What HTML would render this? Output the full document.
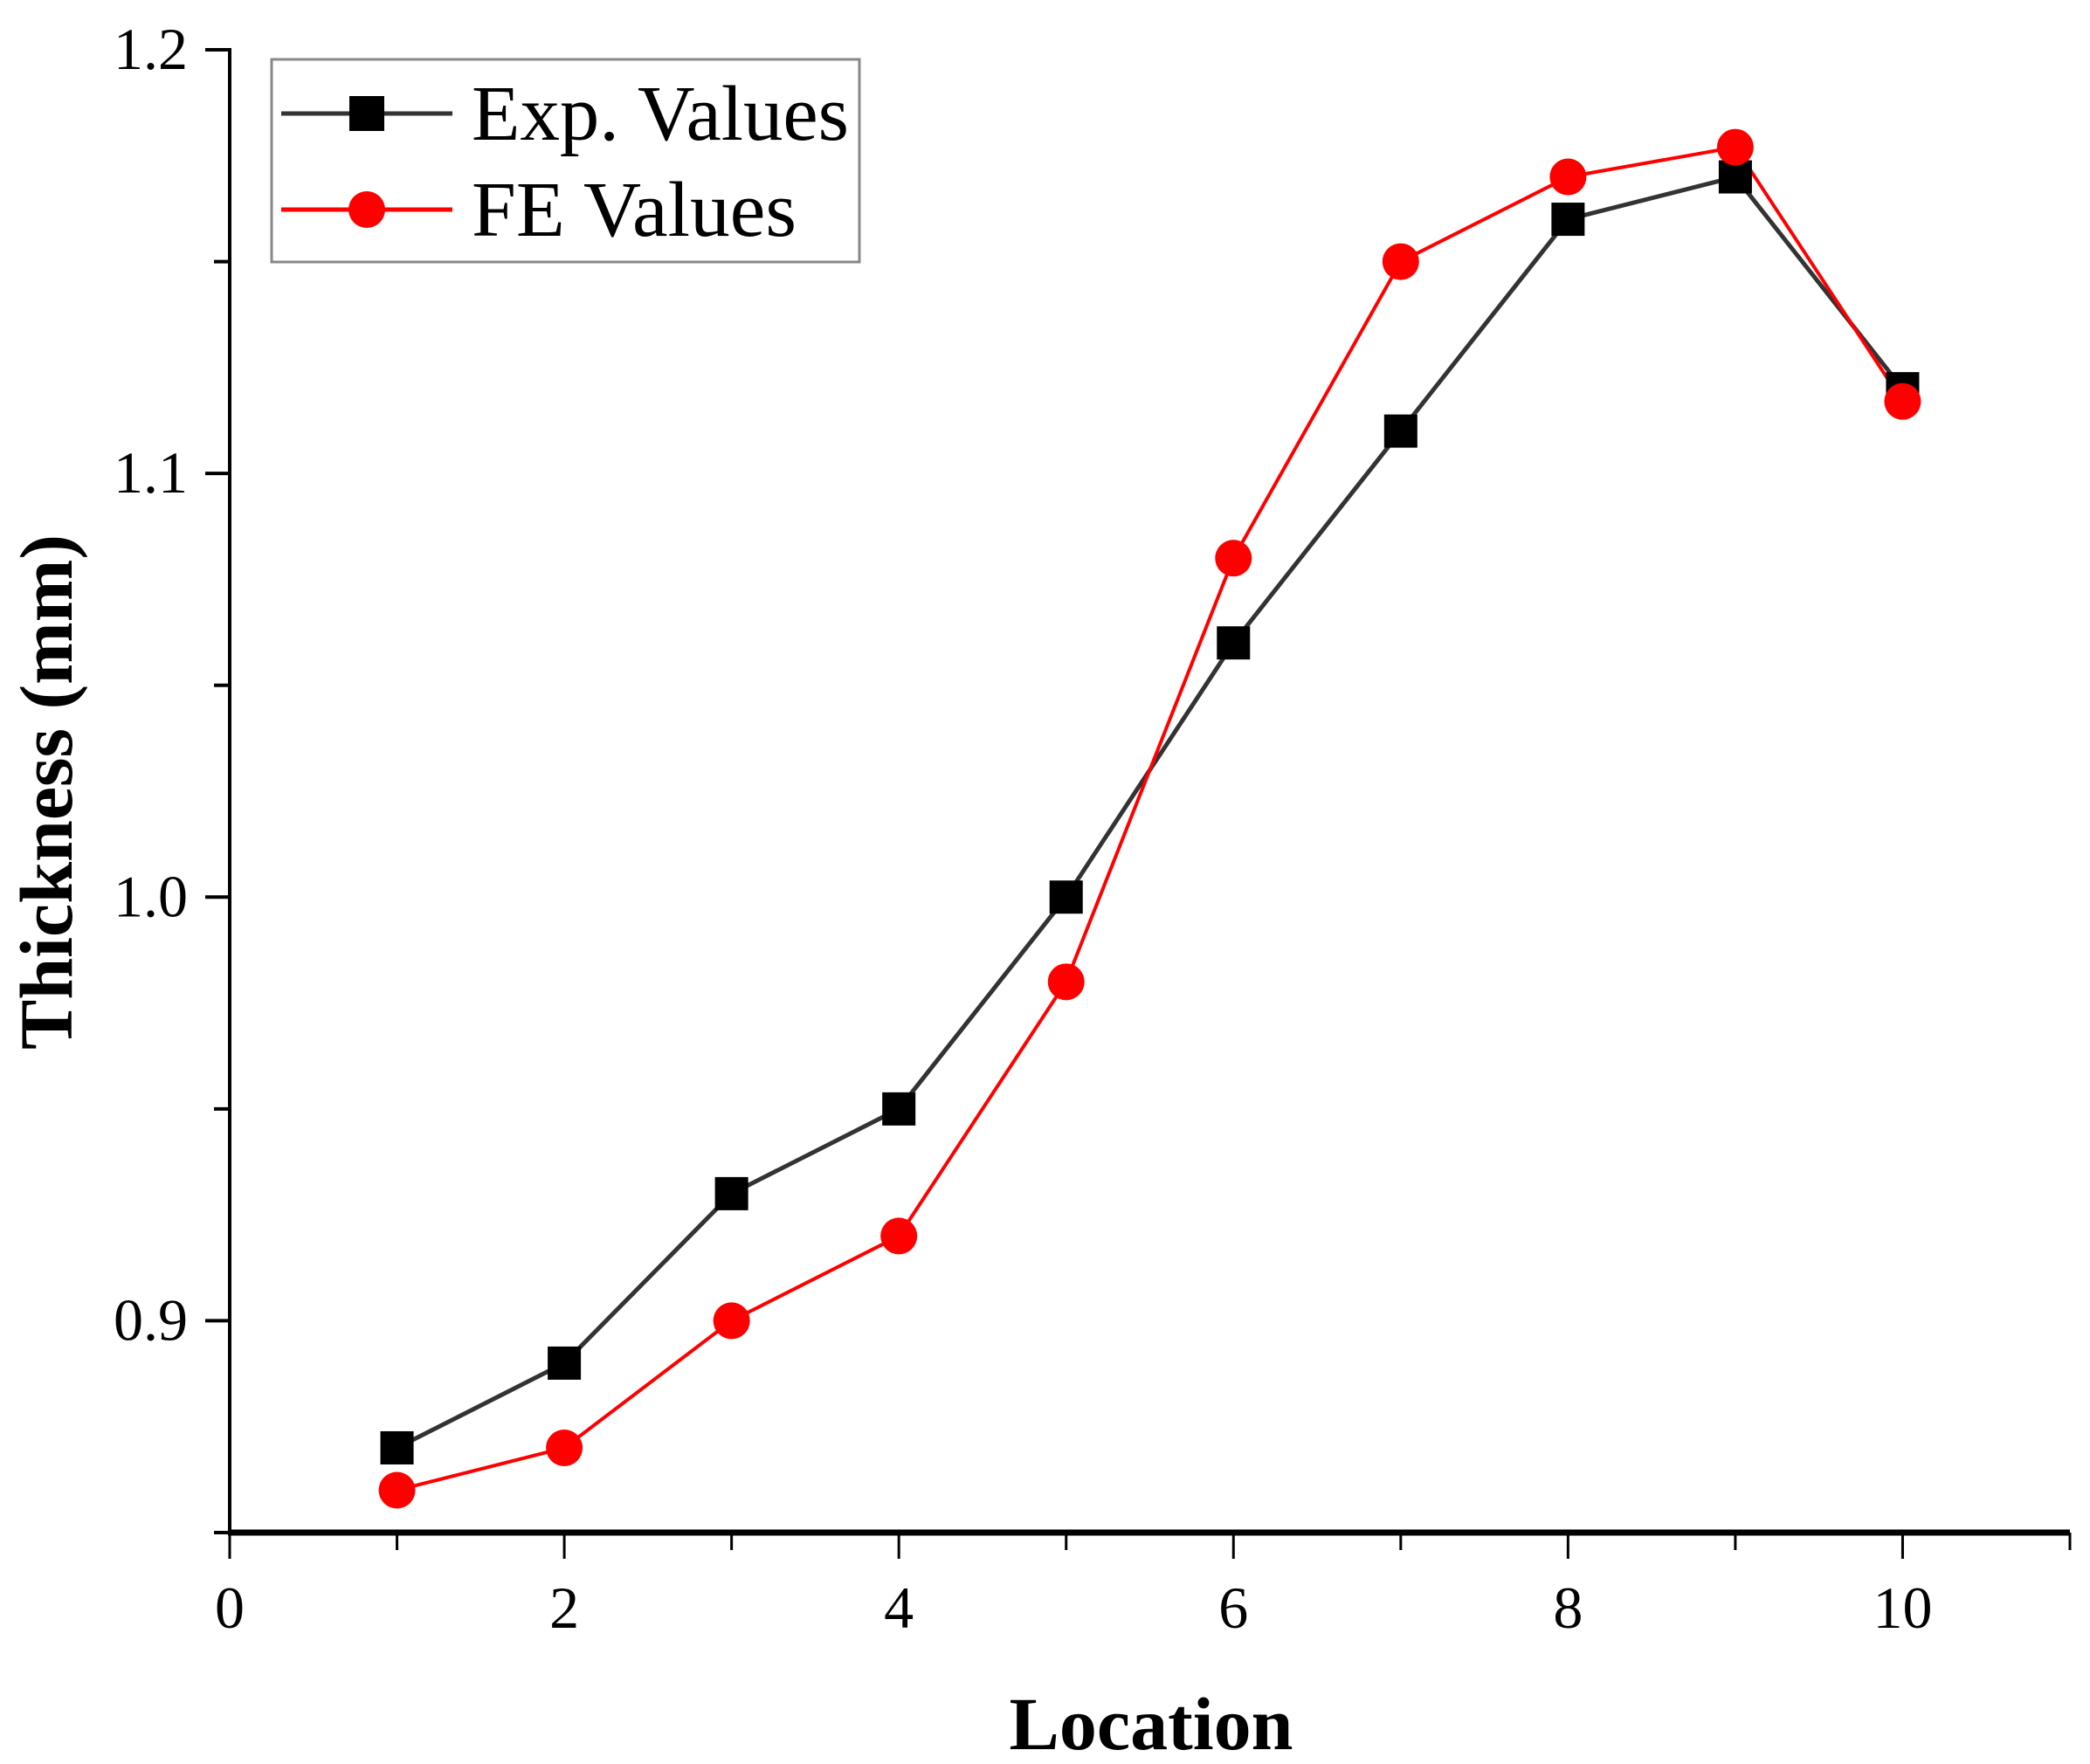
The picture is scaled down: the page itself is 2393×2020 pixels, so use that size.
<!DOCTYPE html>
<html><head><meta charset="utf-8"><style>
html,body{margin:0;padding:0;background:#fff}
svg{display:block}
text{font-family:"Liberation Serif",serif}
</style></head><body>
<svg id="chart" width="2393" height="2020" viewBox="0 0 2393 2020" xmlns="http://www.w3.org/2000/svg">
<g id="axes"></g>
<g id="series"></g>
<g>
 <rect x="311" y="68" width="673" height="232" fill="#fff" stroke="#888" stroke-width="3"/>
 <g>
  <line x1="322" y1="130" x2="518" y2="130" stroke="#333" stroke-width="5"/>
  <rect x="400" y="110" width="40" height="40" fill="#000"/>
  <text x="540" y="160" font-size="90" fill="#000" textLength="432" lengthAdjust="spacingAndGlyphs">Exp. Values</text>
 </g>
 <g>
  <line x1="322" y1="240" x2="518" y2="240" stroke="#f00" stroke-width="5"/>
  <circle cx="420" cy="240" r="21" fill="#f00"/>
  <text x="540" y="270" font-size="90" fill="#000" textLength="372" lengthAdjust="spacingAndGlyphs">FE Values</text>
 </g>
</g>
<text x="1318" y="2003" font-size="86" font-weight="bold" text-anchor="middle">Location</text>
<text transform="translate(82,907) rotate(-90)" font-size="86" font-weight="bold" text-anchor="middle">Thickness (mm)</text>
</svg>
<script>
const locations = [1,2,3,4,5,6,7,8,9,10];
const expValues = [0.87,0.89,0.93,0.95,1.00,1.06,1.11,1.16,1.17,1.12];
const feValues = [0.86,0.87,0.90,0.92,0.98,1.08,1.15,1.17,1.177,1.117];
const xTickLabels = [0,2,4,6,8,10];
const yTickLabels = [0.9,1.0,1.1,1.2];

const NS = "http://www.w3.org/2000/svg";
const X0=263, X1=2370, XMIN=0, XMAX=11;
const YTOP=57, YBOT=1755, YMIN=0.85, YMAX=1.2;
function xs(v){return X0+(v-XMIN)/(XMAX-XMIN)*(X1-X0);}
function ys(v){return YBOT-(v-YMIN)/(YMAX-YMIN)*(YBOT-YTOP);}
function mk(tag, attrs, parent){const e=document.createElementNS(NS,tag);for(const k in attrs)e.setAttribute(k,attrs[k]);parent.appendChild(e);return e;}

const axes=document.getElementById('axes');
let el=mk('line',{x1:X0,y1:YTOP-2,x2:X0,y2:YBOT+2,stroke:'#000','stroke-width':4},axes);


el=mk('line',{x1:X0-2,y1:YBOT,x2:X1,y2:YBOT,stroke:'#000','stroke-width':7},axes);


for(let v=0; v<=11; v++){
  const major = v%2===0;
  el=mk('line',{x1:xs(v),y1:YBOT,x2:xs(v),y2:YBOT+(major?30:20),stroke:'#000','stroke-width':3},axes);
  
  
}
xTickLabels.forEach(v=>{
  el=mk('text',{x:xs(v),y:1864,'font-size':68,'text-anchor':'middle'},axes);
  el.textContent=String(v);
  
  
});
for(let v=0.85; v<=1.2001; v+=0.05){
  const major = Math.abs(Math.round(v*10)-v*10)<1e-6;
  el=mk('line',{x1:X0-(major?28:18),y1:ys(v),x2:X0,y2:ys(v),stroke:'#000','stroke-width':4},axes);
  
  
}
yTickLabels.forEach(v=>{
  el=mk('text',{x:215,y:ys(v)+22,'font-size':68,'text-anchor':'end'},axes);
  el.textContent=v.toFixed(1);
  
  
});

const series=document.getElementById('series');
function pts(vals){return locations.map((x,i)=>xs(x)+','+ys(vals[i])).join(' ');}
el=mk('polyline',{points:pts(expValues),fill:'none',stroke:'#333','stroke-width':5},series);


el=mk('polyline',{points:pts(feValues),fill:'none',stroke:'#f00','stroke-width':4},series);


locations.forEach((x,i)=>{
  el=mk('rect',{x:xs(x)-19,y:ys(expValues[i])-19,width:38,height:38,fill:'#000'},series);
  
  
});
locations.forEach((x,i)=>{
  el=mk('circle',{cx:xs(x),cy:ys(feValues[i]),r:21,fill:'#f00'},series);
  
  
});
</script>
</body></html>
